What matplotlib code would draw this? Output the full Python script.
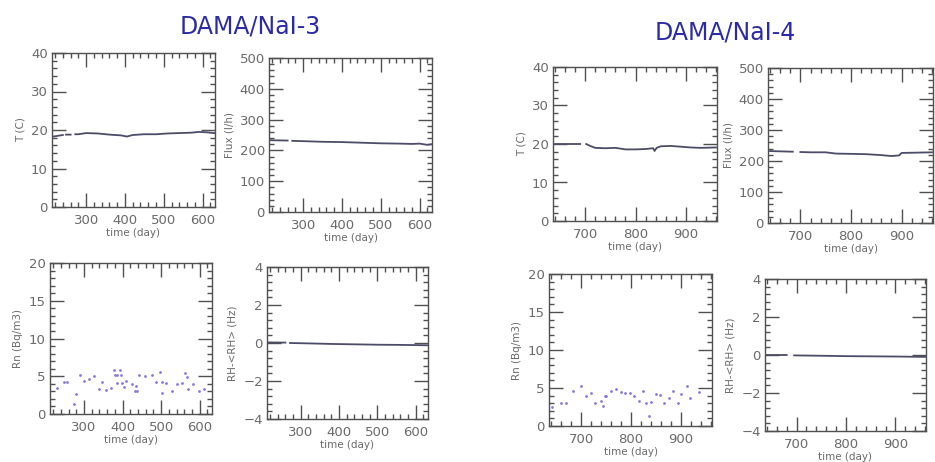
import numpy as np
import matplotlib
matplotlib.use("Agg")
import matplotlib.pyplot as plt
from matplotlib.ticker import MultipleLocator

nan = np.nan

# ---------------- DAMA/NaI-3 ----------------
t3_days = [215, 240, 244, 248, 260, 268, 272, 280, 300, 330, 360, 390, 405, 420, 450, 480, 510, 540, 570, 590, 610, 630]
t3_vals = [18.3, 18.7, nan, 18.8, 18.8, nan, 18.9, 18.9, 19.2, 19.1, 18.8, 18.6, 18.3, 18.7, 18.9, 18.9, 19.1, 19.2, 19.3, 19.5, 19.4, 19.2]

f3_days = [215, 260, 266, 272, 300, 350, 400, 450, 500, 550, 580, 600, 620, 630]
f3_vals = [233, 232, nan, 231, 230, 228, 227, 225, 223, 222, 221, 222, 218, 220]

rh3_days = [215, 260, 266, 272, 320, 380, 440, 500, 560, 630]
rh3_vals = [0.03, 0.02, nan, 0.0, -0.02, -0.05, -0.07, -0.09, -0.10, -0.12]

rn3_days = [230, 249, 257, 273, 279, 290, 301, 312, 327, 338, 348, 358, 369, 378, 381, 386, 393, 395,
            386, 398, 404, 408, 425, 432, 435, 438, 442, 459, 476, 487, 498, 502, 502, 512, 529, 541,
            554, 562, 566, 571, 584, 598, 612]
rn3_vals = [3.5, 4.3, 4.3, 1.3, 2.6, 5.2, 4.4, 4.6, 5.0, 3.3, 4.3, 3.2, 3.5, 5.8, 5.2, 5.2, 5.8, 5.2,
            4.1, 4.1, 3.6, 4.4, 4.0, 3.1, 3.7, 3.0, 5.2, 5.0, 5.2, 4.3, 5.6, 4.3, 2.8, 4.1, 3.0, 4.0,
            4.1, 5.4, 4.9, 3.3, 4.0, 3.1, 3.3]

# ---------------- DAMA/NaI-4 ----------------
t4_days = [640, 690, 696, 702, 710, 720, 740, 760, 780, 800, 820, 835, 838, 842, 850, 870, 890, 910, 930, 960]
t4_vals = [20.0, 20.0, nan, 20.0, 19.5, 19.0, 18.9, 19.0, 18.6, 18.6, 18.7, 18.9, 18.2, 19.0, 19.4, 19.5, 19.3, 19.1, 19.0, 19.1]

f4_days = [640, 685, 692, 700, 720, 750, 770, 800, 830, 860, 880, 895, 900, 930, 960]
f4_vals = [232, 230, nan, 229, 228, 228, 224, 223, 222, 219, 216, 218, 226, 227, 228]

rh4_days = [640, 680, 688, 695, 750, 800, 850, 900, 960]
rh4_vals = [0.0, 0.0, nan, -0.02, -0.04, -0.06, -0.07, -0.08, -0.10]

rn4_days = [641, 660, 670, 684, 700, 710, 720, 728, 740, 743, 747, 750, 760, 770, 780, 788, 797, 806,
            815, 823, 830, 835, 840, 850, 857, 866, 876, 884, 894, 900, 911, 918, 935]
rn4_vals = [2.5, 3.0, 3.0, 4.6, 5.2, 3.9, 4.4, 3.0, 3.3, 2.6, 3.9, 4.0, 4.6, 4.9, 4.5, 4.3, 4.4, 4.0,
            3.3, 4.6, 3.0, 1.3, 3.1, 4.2, 4.1, 3.0, 3.7, 4.6, 3.0, 4.2, 5.3, 3.7, 4.5]

titles = ["DAMA/NaI-3", "DAMA/NaI-4"]

W, H = 935, 462
fig = plt.figure(figsize=(W / 100, H / 100), dpi=100)
fig.patch.set_facecolor("white")

FRAME = "#505050"
TXT = "#6a6a6a"
LINE = "#4c4c68"
DOT = "#8a78d8"


def box(l, r, t, b):
    return [l / W, 1 - b / H, (r - l) / W, (b - t) / H]


def style(ax, xlim, ylim, ymaj, xlabel, ylabel):
    ax.set_xlim(*xlim)
    ax.set_ylim(*ylim)
    ax.xaxis.set_major_locator(MultipleLocator(100))
    ax.xaxis.set_minor_locator(MultipleLocator(20))
    ax.yaxis.set_major_locator(MultipleLocator(ymaj))
    ax.yaxis.set_minor_locator(MultipleLocator(ymaj / 5))
    ax.tick_params(which="both", direction="in", top=True, right=True,
                   colors=FRAME, labelcolor=TXT, labelsize=9.5, width=1.0)
    ax.tick_params(which="major", length=10)
    ax.tick_params(which="minor", length=3.5)
    ax.tick_params(axis="x", pad=5)
    ax.tick_params(axis="y", pad=3)
    for s in ax.spines.values():
        s.set_color(FRAME)
        s.set_linewidth(1.0)
    ax.set_xlabel(xlabel, fontsize=7.5, color=TXT, labelpad=1)
    ax.set_ylabel(ylabel, fontsize=7.5, color=TXT, labelpad=4)


xl3 = (212, 632)
xl4 = (636, 962)

# NaI-3 panels
ax = fig.add_axes(box(52, 215, 53, 207))
ax.plot(t3_days, t3_vals, color=LINE, lw=1.3)
style(ax, xl3, (0, 40), 10, "time (day)", "T (C)")

ax = fig.add_axes(box(269, 432, 58, 212))
ax.plot(f3_days, f3_vals, color=LINE, lw=1.3)
style(ax, xl3, (0, 500), 100, "time (day)", "Flux (l/h)")

ax = fig.add_axes(box(50, 212, 263, 414))
ax.scatter(rn3_days, rn3_vals, s=4, color=DOT, linewidths=0)
style(ax, xl3, (0, 20), 5, "time (day)", "Rn (Bq/m3)")

ax = fig.add_axes(box(267, 428, 267, 419))
ax.plot(rh3_days, rh3_vals, color=LINE, lw=1.3)
style(ax, xl3, (-4, 4), 2, "time (day)", "RH-<RH> (Hz)")

# NaI-4 panels
ax = fig.add_axes(box(553, 717, 67, 221))
ax.plot(t4_days, t4_vals, color=LINE, lw=1.3)
style(ax, xl4, (0, 40), 10, "time (day)", "T (C)")

ax = fig.add_axes(box(768, 933, 68, 223))
ax.plot(f4_days, f4_vals, color=LINE, lw=1.3)
style(ax, xl4, (0, 500), 100, "time (day)", "Flux (l/h)")

ax = fig.add_axes(box(549, 712, 274, 426))
ax.scatter(rn4_days, rn4_vals, s=4, color=DOT, linewidths=0)
style(ax, xl4, (0, 20), 5, "time (day)", "Rn (Bq/m3)")

ax = fig.add_axes(box(765, 926, 279, 431))
ax.plot(rh4_days, rh4_vals, color=LINE, lw=1.3)
style(ax, xl4, (-4, 4), 2, "time (day)", "RH-<RH> (Hz)")

fig.text(250 / W, 1 - 27 / H, titles[0], ha="center", va="center",
         fontsize=17, color="#2b2ba8")
fig.text(725 / W, 1 - 33 / H, titles[1], ha="center", va="center",
         fontsize=17, color="#2b2ba8")

fig.savefig("out.png", dpi=100, facecolor="white")
